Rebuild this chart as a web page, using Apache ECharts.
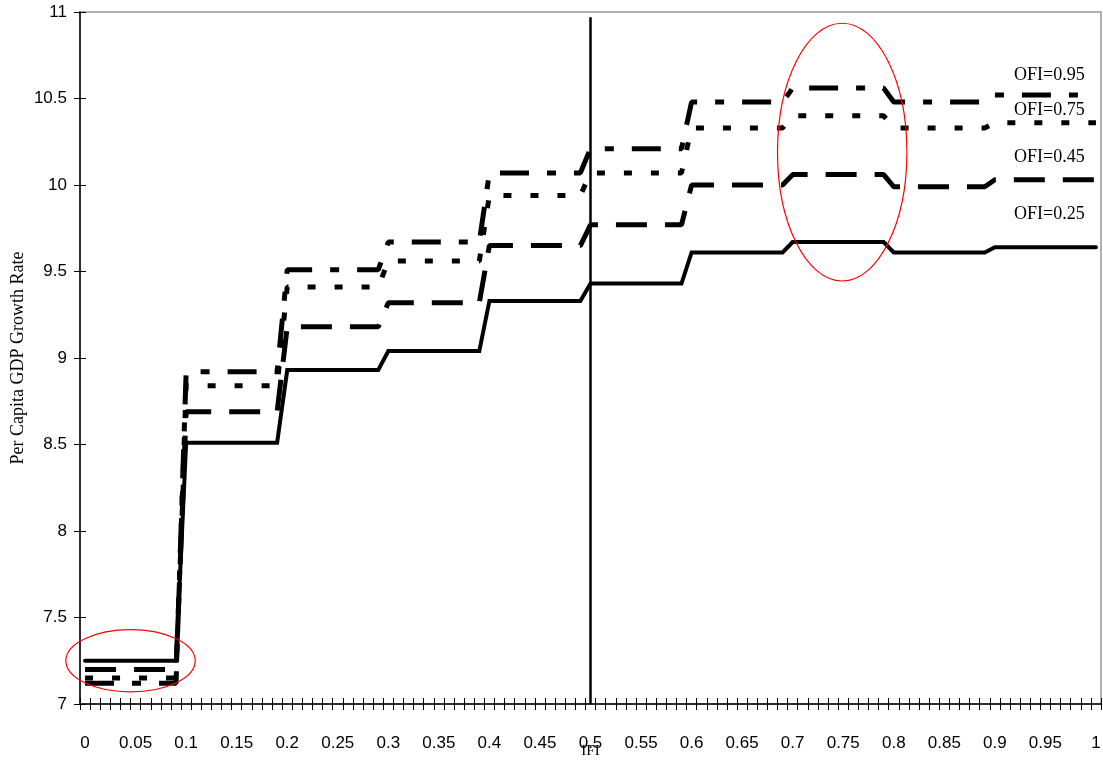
<!DOCTYPE html>
<html><head><meta charset="utf-8">
<script src="https://cdn.jsdelivr.net/npm/echarts@6/dist/echarts.min.js"></script>
<style>html,body{margin:0;padding:0;background:#fff}#c{width:1103px;height:764px}</style>
</head><body><div id="c"></div>
<script>
// IFI categories (x axis)
const ifi = [
'0','0.01','0.02','0.03','0.04','0.05','0.06','0.07','0.08','0.09',
'0.1','0.11','0.12','0.13','0.14','0.15','0.16','0.17','0.18','0.19',
'0.2','0.21','0.22','0.23','0.24','0.25','0.26','0.27','0.28','0.29',
'0.3','0.31','0.32','0.33','0.34','0.35','0.36','0.37','0.38','0.39',
'0.4','0.41','0.42','0.43','0.44','0.45','0.46','0.47','0.48','0.49',
'0.5','0.51','0.52','0.53','0.54','0.55','0.56','0.57','0.58','0.59',
'0.6','0.61','0.62','0.63','0.64','0.65','0.66','0.67','0.68','0.69',
'0.7','0.71','0.72','0.73','0.74','0.75','0.76','0.77','0.78','0.79',
'0.8','0.81','0.82','0.83','0.84','0.85','0.86','0.87','0.88','0.89',
'0.9','0.91','0.92','0.93','0.94','0.95','0.96','0.97','0.98','0.99',
'1'];

const ofi25 = [
7.25,7.25,7.25,7.25,7.25,7.25,7.25,7.25,7.25,7.25,
8.51,8.51,8.51,8.51,8.51,8.51,8.51,8.51,8.51,8.51,
8.93,8.93,8.93,8.93,8.93,8.93,8.93,8.93,8.93,8.93,
9.04,9.04,9.04,9.04,9.04,9.04,9.04,9.04,9.04,9.04,
9.33,9.33,9.33,9.33,9.33,9.33,9.33,9.33,9.33,9.33,
9.43,9.43,9.43,9.43,9.43,9.43,9.43,9.43,9.43,9.43,
9.61,9.61,9.61,9.61,9.61,9.61,9.61,9.61,9.61,9.61,
9.67,9.67,9.67,9.67,9.67,9.67,9.67,9.67,9.67,9.67,
9.61,9.61,9.61,9.61,9.61,9.61,9.61,9.61,9.61,9.61,
9.64,9.64,9.64,9.64,9.64,9.64,9.64,9.64,9.64,9.64,
9.64];

const ofi45 = [
7.20,7.20,7.20,7.20,7.20,7.20,7.20,7.20,7.20,7.20,
8.69,8.69,8.69,8.69,8.69,8.69,8.69,8.69,8.69,8.69,
9.18,9.18,9.18,9.18,9.18,9.18,9.18,9.18,9.18,9.18,
9.32,9.32,9.32,9.32,9.32,9.32,9.32,9.32,9.32,9.32,
9.65,9.65,9.65,9.65,9.65,9.65,9.65,9.65,9.65,9.65,
9.77,9.77,9.77,9.77,9.77,9.77,9.77,9.77,9.77,9.77,
10.00,10.00,10.00,10.00,10.00,10.00,10.00,10.00,10.00,10.00,
10.06,10.06,10.06,10.06,10.06,10.06,10.06,10.06,10.06,10.06,
9.99,9.99,9.99,9.99,9.99,9.99,9.99,9.99,9.99,9.99,
10.03,10.03,10.03,10.03,10.03,10.03,10.03,10.03,10.03,10.03,
10.03];

const ofi75 = [
7.15,7.15,7.15,7.15,7.15,7.15,7.15,7.15,7.15,7.15,
8.84,8.84,8.84,8.84,8.84,8.84,8.84,8.84,8.84,8.84,
9.41,9.41,9.41,9.41,9.41,9.41,9.41,9.41,9.41,9.41,
9.56,9.56,9.56,9.56,9.56,9.56,9.56,9.56,9.56,9.56,
9.94,9.94,9.94,9.94,9.94,9.94,9.94,9.94,9.94,9.94,
10.07,10.07,10.07,10.07,10.07,10.07,10.07,10.07,10.07,10.07,
10.33,10.33,10.33,10.33,10.33,10.33,10.33,10.33,10.33,10.33,
10.40,10.40,10.40,10.40,10.40,10.40,10.40,10.40,10.40,10.40,
10.33,10.33,10.33,10.33,10.33,10.33,10.33,10.33,10.33,10.33,
10.36,10.36,10.36,10.36,10.36,10.36,10.36,10.36,10.36,10.36,
10.36];

const ofi95 = [
7.12,7.12,7.12,7.12,7.12,7.12,7.12,7.12,7.12,7.12,
8.92,8.92,8.92,8.92,8.92,8.92,8.92,8.92,8.92,8.92,
9.51,9.51,9.51,9.51,9.51,9.51,9.51,9.51,9.51,9.51,
9.67,9.67,9.67,9.67,9.67,9.67,9.67,9.67,9.67,9.67,
10.07,10.07,10.07,10.07,10.07,10.07,10.07,10.07,10.07,10.07,
10.21,10.21,10.21,10.21,10.21,10.21,10.21,10.21,10.21,10.21,
10.48,10.48,10.48,10.48,10.48,10.48,10.48,10.48,10.48,10.48,
10.56,10.56,10.56,10.56,10.56,10.56,10.56,10.56,10.56,10.56,
10.48,10.48,10.48,10.48,10.48,10.48,10.48,10.48,10.48,10.48,
10.52,10.52,10.52,10.52,10.52,10.52,10.52,10.52,10.52,10.52,
10.52];

const seriesNames = ['OFI=0.25','OFI=0.45','OFI=0.75','OFI=0.95'];
// label anchor positions in data units: [category index, value]
const labelIndex = 91.9;
const labelValues = [9.83, 10.16, 10.43, 10.632];
// annotation ellipses in data units: [centre index, centre value, radius in categories, radius in value]
const ellipseA = [4.5, 7.25, 6.4, 0.18];
const ellipseB = [74.9, 10.19, 6.4, 0.745];
const markerIFI = '0.5';

const chart = echarts.init(document.getElementById('c'), null, {renderer:'canvas'});
const sans = 'Liberation Sans';
const serif = 'Liberation Serif';

const option = {
  animation: false,
  backgroundColor: '#fff',
  grid: {left: 80, right: 2, top: 12, bottom: 60, containLabel: false, outerBoundsMode: 'none',
         show: true, borderColor: '#999', borderWidth: 1.5, backgroundColor: 'transparent'},
  xAxis: [
    {type: 'category', data: ifi, boundaryGap: true, position: 'bottom',
     axisLine: {lineStyle: {color: '#000', width: 1.5}},
     axisTick: {show: true, interval: 0, length: 6, lineStyle: {color: '#000', width: 1}},
     axisLabel: {interval: 4, color: '#000', fontFamily: sans, fontSize: 17, margin: 31},
     splitLine: {show: false},
     name: 'IFI', nameLocation: 'middle', nameGap: 40, nameMoveOverlap: false,
     nameTextStyle: {fontFamily: serif, fontSize: 15, color: '#000'}},
    {type: 'category', data: ifi, boundaryGap: true, position: 'bottom', offset: 0,
     axisLine: {show: false},
     axisTick: {show: true, inside: true, interval: 0, length: 6, lineStyle: {color: '#000', width: 1}},
     axisLabel: {show: false}, splitLine: {show: false}}
  ],
  yAxis: [
    {type: 'value', min: 7, max: 11, interval: 0.5, position: 'left',
     axisLine: {show: true, lineStyle: {color: '#000', width: 1.5}},
     axisTick: {show: true, length: 6, lineStyle: {color: '#000', width: 1}},
     axisLabel: {color: '#000', fontFamily: sans, fontSize: 17, margin: 13},
     splitLine: {show: false},
     name: 'Per Capita GDP Growth Rate', nameLocation: 'middle', nameGap: 53, nameRotate: 90, nameMoveOverlap: false,
     nameTextStyle: {fontFamily: serif, fontSize: 18, color: '#000'}},
    {type: 'value', min: 7, max: 11, interval: 0.5, position: 'left', offset: 0,
     axisLine: {show: false},
     axisTick: {show: true, inside: true, length: 6, lineStyle: {color: '#000', width: 1}},
     axisLabel: {show: false}, splitLine: {show: false}}
  ],
  series: [
    {name: seriesNames[0], type: 'line', data: ofi25, symbol: 'none', z: 5,
     lineStyle: {color: '#000', width: 4, type: 'solid', cap: 'round', join: 'miter'},
     markLine: {symbol: ['none', 'none'], silent: true, label: {show: false},
       lineStyle: {color: '#000', width: 2.5, type: 'solid'},
       data: [[{coord: [markerIFI, 10.97]}, {coord: [markerIFI, 7]}]]}},
    {name: seriesNames[1], type: 'line', data: ofi45, symbol: 'none', z: 4,
     lineStyle: {color: '#000', width: 5, type: [31, 18], cap: 'butt'}},
    {name: seriesNames[2], type: 'line', data: ofi75, symbol: 'none', z: 3,
     lineStyle: {color: '#000', width: 5, type: [8, 19], cap: 'butt'}},
    {name: seriesNames[3], type: 'line', data: ofi95, symbol: 'none', z: 2,
     lineStyle: {color: '#000', width: 5, type: [29, 18, 9, 18], cap: 'butt'}}
  ]
};
chart.setOption(option);

function px(idx, val) {
  const p0 = chart.convertToPixel({xAxisIndex: 0, yAxisIndex: 0}, [0, val]);
  const p1 = chart.convertToPixel({xAxisIndex: 0, yAxisIndex: 0}, [100, val]);
  return [p0[0] + (p1[0] - p0[0]) * idx / 100, p0[1]];
}
function ellipse(e) {
  const c = px(e[0], e[1]);
  const r = px(e[0] + e[2], e[1] + e[3]);
  return {type: 'ellipse', silent: true, z: 10,
    shape: {cx: c[0], cy: c[1], rx: Math.abs(r[0] - c[0]), ry: Math.abs(c[1] - r[1])},
    style: {fill: 'none', stroke: '#ff0000', lineWidth: 1.2}};
}
const graphics = [ellipse(ellipseA), ellipse(ellipseB)];
labelValues.forEach((v, i) => {
  const p = px(labelIndex, v);
  graphics.push({type: 'text', silent: true, z: 10, x: p[0], y: p[1],
    style: {text: seriesNames[i], fill: '#000', font: '18px "Liberation Serif"', align: 'left', verticalAlign: 'middle'}});
});
chart.setOption({graphic: graphics});
</script>
</body></html>
